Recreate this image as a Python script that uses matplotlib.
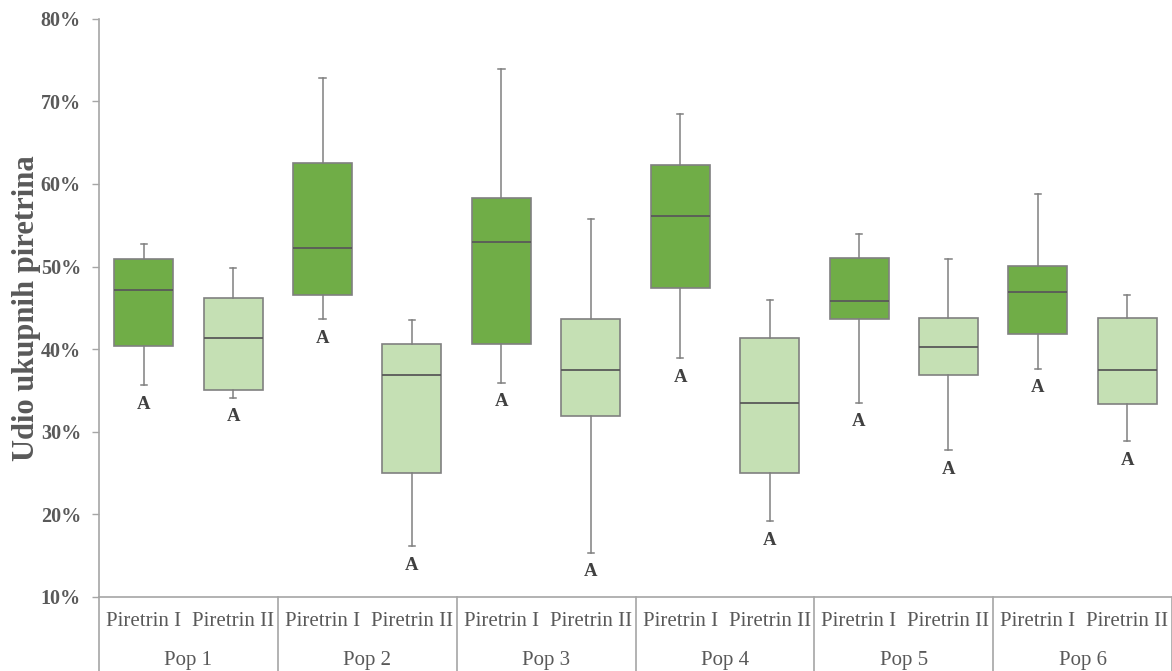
import matplotlib.pyplot as plt
import numpy as np

# Box statistics (percent)
pops = ['Pop 1', 'Pop 2', 'Pop 3', 'Pop 4', 'Pop 5', 'Pop 6']
compounds = ['Piretrin I', 'Piretrin II']

whisk_lo = [35.6, 34.1, 43.6, 16.1, 35.9, 15.3, 38.9, 19.1, 33.5, 27.7, 37.6, 28.8]
q1 = [40.4, 35.0, 46.6, 25.0, 40.6, 31.9, 47.4, 25.0, 43.6, 36.9, 41.8, 33.3]
median = [47.1, 41.3, 52.2, 36.8, 53.0, 37.4, 56.1, 33.45, 45.8, 40.2, 46.9, 37.5]
q3 = [50.9, 46.2, 62.6, 40.6, 58.3, 43.6, 62.3, 41.3, 51.0, 43.8, 50.1, 43.8]
whisk_hi = [52.7, 49.8, 72.8, 43.5, 73.9, 55.8, 68.5, 46.0, 54.0, 50.9, 58.8, 46.6]
letters = ['A'] * 12

yticks = [10, 20, 30, 40, 50, 60, 70, 80]

dark_green = '#70AD47'
light_green = '#C5E0B4'
text_gray = '#595959'
line_gray = '#808080'

plt.rcParams['font.family'] = ['Liberation Serif', 'DejaVu Serif']

fig = plt.figure(figsize=(11.72, 6.71), dpi=100)
ax = fig.add_axes([0.0845, 0.111, 0.9155, 0.8607])

stats = []
for i in range(12):
    stats.append({'whislo': whisk_lo[i], 'q1': q1[i], 'med': median[i],
                  'q3': q3[i], 'whishi': whisk_hi[i], 'fliers': []})

pos = np.arange(12)
bp = ax.bxp(stats, positions=pos, widths=0.66, patch_artist=True,
            showfliers=False, capwidths=0.07,
            boxprops=dict(edgecolor=line_gray, linewidth=1.2),
            medianprops=dict(color=text_gray, linewidth=1.3),
            whiskerprops=dict(color=line_gray, linewidth=1.1),
            capprops=dict(color=line_gray, linewidth=1.1))
for i, box in enumerate(bp['boxes']):
    box.set_facecolor(dark_green if i % 2 == 0 else light_green)

# significance letters under the lower whiskers
for i in range(12):
    ax.text(pos[i], whisk_lo[i] - 2.3, letters[i], ha='center', va='center',
            fontsize=13.5, fontweight='bold', color='#404040')

ax.set_xlim(-0.5, 11.5)
ax.set_ylim(10, 80)
ax.set_yticks(yticks)
ax.set_yticklabels([f'{t}%' for t in yticks], fontsize=14.5, fontweight='bold',
                   color=text_gray)
ax.tick_params(axis='y', length=5, width=1, color='#a6a6a6', pad=8)
ax.set_xticks([])

ax.set_ylabel('Udio ukupnih piretrina', fontsize=22, fontweight='bold',
              color=text_gray)
ax.yaxis.set_label_coords(-0.054, 0.5)

for s in ['top', 'right']:
    ax.spines[s].set_visible(False)
ax.spines['left'].set_color('#a6a6a6')
ax.spines['bottom'].set_color('#a6a6a6')
ax.spines['left'].set_linewidth(1.2)
ax.spines['bottom'].set_linewidth(1.2)

# two-level category labels below the axis
trans = ax.get_xaxis_transform()
for i in range(12):
    ax.text(pos[i], -0.0436, compounds[i % 2], transform=trans, ha='center',
            va='center', fontsize=15, color=text_gray)
for g, name in enumerate(pops):
    ax.text(2 * g + 0.5, -0.11, name, transform=trans, ha='center',
            va='center', fontsize=15, color=text_gray)
for b in np.arange(-0.5, 12, 2):
    ax.plot([b, b], [0, -0.14], transform=trans, clip_on=False,
            color='#a6a6a6', linewidth=1.2)

fig.savefig('out.png', dpi=100)
